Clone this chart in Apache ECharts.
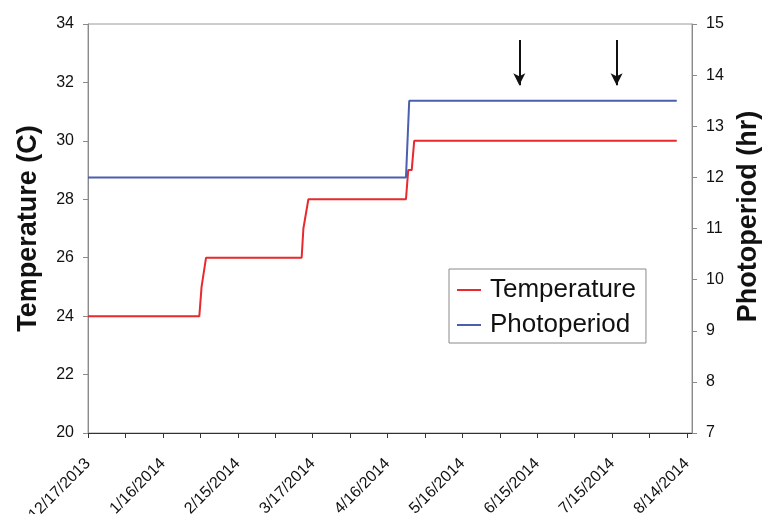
<!DOCTYPE html>
<html>
<head>
<meta charset="utf-8">
<script src="https://cdn.jsdelivr.net/npm/echarts@6/dist/echarts.min.js"></script>
<style>
html,body{margin:0;padding:0;background:#fff;}
#chart{width:764px;height:514px;}
</style>
</head>
<body>
<div id="chart"></div>
<script>
// x values are days after 12/17/2013
var xTickLabels = ['12/17/2013','1/16/2014','2/15/2014','3/17/2014','4/16/2014','5/16/2014','6/15/2014','7/15/2014','8/14/2014'];
var tempDays   = [0, 44.6, 45.5, 46.2, 47.3, 85.6, 86.3, 86.9, 88.3, 127.4, 128.3, 129.7, 130.7, 235.9];
var tempValues = [24, 24,  25,   25,   26,   26,   27,   27,   28,   28,    29,    29,    30,    30];
var photoDays   = [0, 127.4, 128.7, 235.9];
var photoValues = [12, 12,   13.5,  13.5];
var arrowDays = [172.8, 211.8];
var arrowTop = 33.45, arrowBottom = 31.9;

function zip(a, b){ return a.map(function(v, i){ return [v, b[i]]; }); }

var chart = echarts.init(document.getElementById('chart'));
var font = 'Liberation Sans, Arial, sans-serif';
chart.setOption({
  animation: false,
  backgroundColor: '#fff',
  grid: {left: 88, right: 72, top: 24, bottom: 81, show: true, borderColor: '#9a9a9a', borderWidth: 1,
         containLabel: false, outerBoundsMode: 'none'},
  legend: {
    orient: 'vertical', left: 449, top: 269,
    padding: [8, 10, 5, 8], itemGap: 9,
    borderColor: '#8a8a8a', borderWidth: 1,
    icon: 'rect', itemWidth: 24, itemHeight: 2,
    textStyle: {fontFamily: font, fontSize: 26, color: '#111', lineHeight: 26, padding: [0, 0, 0, 4]},
    data: ['Temperature', 'Photoperiod']
  },
  xAxis: {
    type: 'value', min: 0, max: 242, interval: 15, splitLine: {show: false},
    axisLine: {lineStyle: {color: '#333', width: 1}},
    axisTick: {length: 5, lineStyle: {color: '#333'}},
    axisLabel: {
      rotate: 45, margin: 28, fontFamily: font, fontSize: 16, color: '#111',
      showMaxLabel: false,
      formatter: function(v){ return (v % 30 === 0) ? (xTickLabels[v / 30] || '') : ''; }
    }
  },
  yAxis: [{
    type: 'value', min: 20, max: 34, interval: 2, position: 'left', splitLine: {show: false},
    name: 'Temperature (C)', nameLocation: 'middle', nameGap: 46, nameRotate: 90,
    nameTextStyle: {fontFamily: font, fontSize: 27, fontWeight: 'bold', color: '#111'},
    axisLine: {show: true, lineStyle: {color: '#8a8a8a'}},
    axisTick: {show: true, length: 5, lineStyle: {color: '#8a8a8a'}},
    axisLabel: {margin: 14, fontFamily: font, fontSize: 16, color: '#111'}
  }, {
    type: 'value', min: 7, max: 15, interval: 1, position: 'right', splitLine: {show: false},
    name: 'Photoperiod (hr)', nameLocation: 'middle', nameGap: 43, nameRotate: 90,
    nameTextStyle: {fontFamily: font, fontSize: 27, fontWeight: 'bold', color: '#111', padding: [0, 0, 0, 24]},
    axisLine: {show: true, lineStyle: {color: '#8a8a8a'}},
    axisTick: {show: true, length: 5, lineStyle: {color: '#8a8a8a'}},
    axisLabel: {margin: 14, fontFamily: font, fontSize: 16, color: '#111'}
  }],
  series: [{
    name: 'Temperature', type: 'line', yAxisIndex: 0,
    data: zip(tempDays, tempValues), symbol: 'none',
    lineStyle: {color: '#e8292d', width: 2}, itemStyle: {color: '#e8292d'},
    markLine: {
      silent: true, symbol: ['none', 'arrow'], symbolSize: [9, 12],
      lineStyle: {color: '#111', width: 2, type: 'solid'},
      label: {show: false},
      data: arrowDays.map(function(d){ return [{coord: [d, arrowTop]}, {coord: [d, arrowBottom]}]; })
    }
  }, {
    name: 'Photoperiod', type: 'line', yAxisIndex: 1,
    data: zip(photoDays, photoValues), symbol: 'none',
    lineStyle: {color: '#4b5fae', width: 2}, itemStyle: {color: '#4b5fae'}
  }]
});
</script>
</body>
</html>
